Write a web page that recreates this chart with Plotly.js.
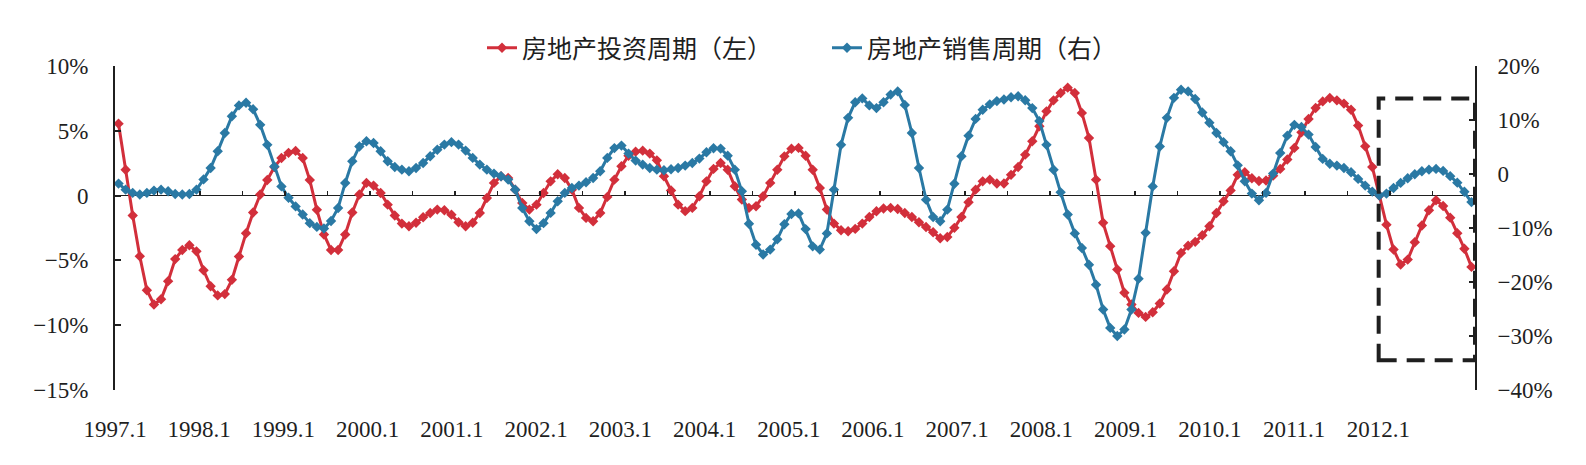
<!DOCTYPE html>
<html>
<head>
<meta charset="utf-8">
<script src="https://cdn.plot.ly/plotly-3.0.1.min.js"></script>
<style>
  html, body { margin: 0; padding: 0; background: #ffffff; }
  #chart { width: 1586px; height: 465px; }
</style>
</head>
<body>
<div id="chart"></div>
<script>
// Year tick labels along the bottom
const yearLabels = ['1997.1', '1998.1', '1999.1', '2000.1', '2001.1', '2002.1', '2003.1', '2004.1',
                    '2005.1', '2006.1', '2007.1', '2008.1', '2009.1', '2010.1', '2011.1', '2012.1'];

// Monthly categories, 1997.1 – 2012.12
const months = [];
for (let y = 1997; y <= 2012; y++) {
  for (let m = 1; m <= 12; m++) months.push(y + '.' + m);
}

// Real-estate investment cycle (left axis, %), one value per month
const investCycle = [
   5.55,  2.0,  -1.54, -4.68, -7.3,  -8.4,  -8.0,  -6.6,  -4.9,  -4.2,  -3.83, -4.3,
  -5.76, -7.0,  -7.7,  -7.6,  -6.5,  -4.7,  -2.9,  -1.3,   0.08,  1.2,   2.2,   2.9,
   3.3,   3.45,  2.9,   1.2,  -1.1,  -3.0,  -4.2,  -4.2,  -3.0,  -1.3,   0.08,  0.98,
   0.77,  0.2,  -0.7,  -1.54, -2.16, -2.37, -2.1,  -1.67, -1.34, -1.08, -1.13, -1.47,
  -2.06, -2.37, -2.1,  -1.34, -0.18,  0.98,  1.49,  1.36,  0.46, -0.57, -1.08, -0.7,
   0.2,   1.1,   1.65,  1.36,  0.46, -0.95, -1.72, -1.98, -1.34, -0.1,   1.23,  2.26,
   3.08,  3.39,  3.47,  3.24,  2.72,  1.49,  0.39, -0.7,  -1.2,  -0.95, -0.05,  1.1,
   2.06,  2.52,  2.0,   0.72, -0.31, -0.95, -0.82, -0.05,  0.98,  2.0,   3.03,  3.62,
   3.68,  3.08,  2.0,   0.59, -1.08, -2.16, -2.67, -2.75, -2.57, -2.16, -1.65, -1.21,
  -1.0,  -0.95, -1.03, -1.34, -1.65, -2.06, -2.42, -2.83, -3.29, -3.19, -2.49, -1.65,
  -0.51,  0.46,  1.1,   1.23,  0.93,  0.93,  1.6,   2.21,  3.16,  4.19,  5.35,  6.5,
   7.35,  7.92,  8.33,  7.92,  6.38,  4.45,  1.23, -2.1,  -3.9,  -5.7,  -7.5,  -8.4,
  -9.05, -9.36, -9.0,  -8.33, -7.25, -5.84, -4.42, -3.86, -3.57, -3.06, -2.37, -1.34,
  -0.44,  0.4,   1.6,   1.8,   1.34,  1.13,  1.16,  1.54,  2.06,  2.78,  3.68,  4.88,
   5.91,  6.76,  7.27,  7.53,  7.35,  7.1,   6.63,  5.4,   3.8,   2.21,  0.0,  -2.24,
  -4.16, -5.32, -4.94, -3.6,  -2.31, -1.13, -0.36, -0.8,  -1.7,  -2.9,  -4.1,  -5.5
];

// Real-estate sales cycle (right axis, %), one value per month
const salesCycle = [
  -1.78, -2.9,  -3.5,  -3.8,  -3.5,  -3.07, -2.9,  -3.2,  -3.7,  -3.8,  -3.7,  -2.9,
  -1.0,   1.1,   4.2,   7.6,  10.7,  12.7,  13.2,  12.0,   9.1,   5.4,   1.4,  -2.3,
  -4.4,  -6.0,  -7.5,  -9.1,  -9.8, -10.1,  -8.7,  -6.3,  -1.66,  2.36,  5.1,   6.06,
   5.75,  4.2,   2.36,  1.3,   0.81,  0.5,   1.12,  2.05,  3.3,   4.5,   5.44,  5.9,
   5.44,  4.33,  2.98,  1.74,  0.81,  0.07, -0.42, -1.04, -2.9,  -6.3,  -8.75, -10.2,
  -9.1,  -7.2,  -5.05, -3.5,  -2.58, -2.15, -1.53, -0.73,  0.51,  2.98,  4.8,   5.26,
   3.78,  2.48,  1.74,  1.12,  0.81,  0.69,  0.88,  1.12,  1.56,  2.05,  2.85,  4.02,
   4.77,  4.7,   3.4,   0.81, -3.2,  -9.2, -13.1, -14.9, -14.0, -12.1,  -9.3,  -7.4,
  -7.3, -10.2, -13.4, -14.0, -11.0,  -2.9,   5.4,  10.4,  13.3,  14.0,  12.7,  12.2,
  13.3,  14.7,  15.3,  12.8,   7.6,   1.1,  -4.75, -7.95, -8.75, -6.6,  -1.8,   3.3,
   7.1,  10.2,  11.9,  12.9,  13.5,  13.8,  14.2,  14.4,  13.65, 12.2,   9.8,   5.4,
   0.8,  -3.4,  -7.5, -11.0, -13.7, -16.8, -20.5, -25.1, -28.5, -30.0, -28.8, -25.1,
 -19.4, -10.9,  -2.3,   5.1,  10.4,  14.1,  15.6,  15.3,  13.9,  11.4,   9.5,   7.6,
   5.9,   4.2,   1.6,  -1.35, -3.63, -4.87, -3.5,   0.07,  3.9,   7.1,   9.1,   8.7,
   7.3,   5.0,   2.8,   1.9,   1.56,  1.12,  0.32, -0.91, -2.15, -3.26, -4.0,  -3.63,
  -2.58, -1.65, -0.79, -0.05,  0.51,  0.81,  0.94,  0.57, -0.4,  -1.6,  -3.3,  -5.2
];

const seriesNames = ['房地产投资周期（左）', '房地产销售周期（右）'];

const leftTickVals  = [-15, -10, -5, 0, 5, 10];
const leftTickText  = ['\u221215%', '\u221210%', '\u22125%', '0', '5%', '10%'];
const rightTickVals = [-40, -30, -20, -10, 0, 10, 20];
const rightTickText = ['\u221240%', '\u221230%', '\u221220%', '\u221210%', '0', '10%', '20%'];

const RED  = '#D22F3B';
const BLUE = '#2A79A4';
const INK  = '#1f1f1f';
const SERIF = '"Liberation Serif", "Times New Roman", "Noto Sans CJK SC", serif';

// Category positions: month i sits at x = i
const idx = months.map((_, i) => i);
const xRange = [-0.5, months.length - 0.5];

// Year labels are spread slightly tighter than the 12-month grid
const LABEL_STEP = 11.89;
const labelPos = yearLabels.map((_, k) => -0.5 + k * LABEL_STEP);

// Half-year tick marks on the zero line
const halfYearTicks = [];
for (let i = 6; i < months.length; i += 6) halfYearTicks.push(i - 0.5);

const traces = [
  {
    type: 'scatter', mode: 'lines+markers',
    name: seriesNames[0],
    x: idx, y: investCycle, text: months,
    xaxis: 'x', yaxis: 'y',
    line: { color: RED, width: 3 },
    marker: { symbol: 'diamond', size: 8, color: RED },
    hovertemplate: '%{text}: %{y:.2f}%<extra></extra>'
  },
  {
    type: 'scatter', mode: 'lines+markers',
    name: seriesNames[1],
    x: idx, y: salesCycle, text: months,
    xaxis: 'x2', yaxis: 'y2',
    line: { color: BLUE, width: 3 },
    marker: { symbol: 'diamond', size: 8, color: BLUE },
    hovertemplate: '%{text}: %{y:.2f}%<extra></extra>'
  }
];

const axisLine = { showline: true, linecolor: INK, linewidth: 2, showgrid: false };

const layout = {
  width: 1586, height: 465,
  margin: { l: 115, r: 111, t: 66, b: 75, pad: 0, autoexpand: false },
  paper_bgcolor: '#ffffff', plot_bgcolor: '#ffffff',
  font: { family: SERIF, size: 23, color: INK },
  showlegend: true,
  legend: {
    orientation: 'h',
    xref: 'container', yref: 'container',
    x: 482 / 1586, y: 1 - 48 / 465,
    xanchor: 'left', yanchor: 'middle',
    font: { family: SERIF, size: 25, color: INK },
    entrywidth: 300, entrywidthmode: 'pixels',
    bgcolor: 'rgba(0,0,0,0)', borderwidth: 0
  },
  xaxis: {
    range: xRange, showline: false, zeroline: false, showgrid: false,
    ticks: '', tickmode: 'array', tickvals: labelPos, ticktext: yearLabels,
    ticklabelstandoff: 23, fixedrange: true
  },
  xaxis2: {
    range: xRange, overlaying: 'x', anchor: 'free', position: 0.6,
    showline: false, zeroline: false, showgrid: false,
    ticks: 'inside', ticklen: 5, tickwidth: 1.5, tickcolor: INK,
    tickmode: 'array', tickvals: halfYearTicks, showticklabels: false, fixedrange: true
  },
  yaxis: Object.assign({
    range: [-15, 10], tickmode: 'array', tickvals: leftTickVals, ticktext: leftTickText,
    ticks: 'inside', ticklen: 6, tickwidth: 2, tickcolor: INK,
    zeroline: true, zerolinecolor: INK, zerolinewidth: 1.5,
    ticklabelstandoff: 20, fixedrange: true
  }, axisLine),
  yaxis2: Object.assign({
    range: [-40, 20], overlaying: 'y', side: 'right', anchor: 'x',
    tickmode: 'array', tickvals: rightTickVals, ticktext: rightTickText,
    ticks: 'inside', ticklen: 6, tickwidth: 2, tickcolor: INK,
    zeroline: false, ticklabelstandoff: 16, fixedrange: true
  }, axisLine),
  shapes: [
    {
      // Dashed box around the most recent period (2011.11 onward)
      type: 'rect', xref: 'x', yref: 'y2',
      x0: 177.9, x1: months.length - 0.5, y0: -34.5, y1: 14,
      line: { color: INK, width: 4, dash: '18px,10px' },
      fillcolor: 'rgba(0,0,0,0)', layer: 'above'
    }
  ]
};

Plotly.newPlot('chart', traces, layout, { displayModeBar: false, staticPlot: true });
</script>
</body>
</html>
